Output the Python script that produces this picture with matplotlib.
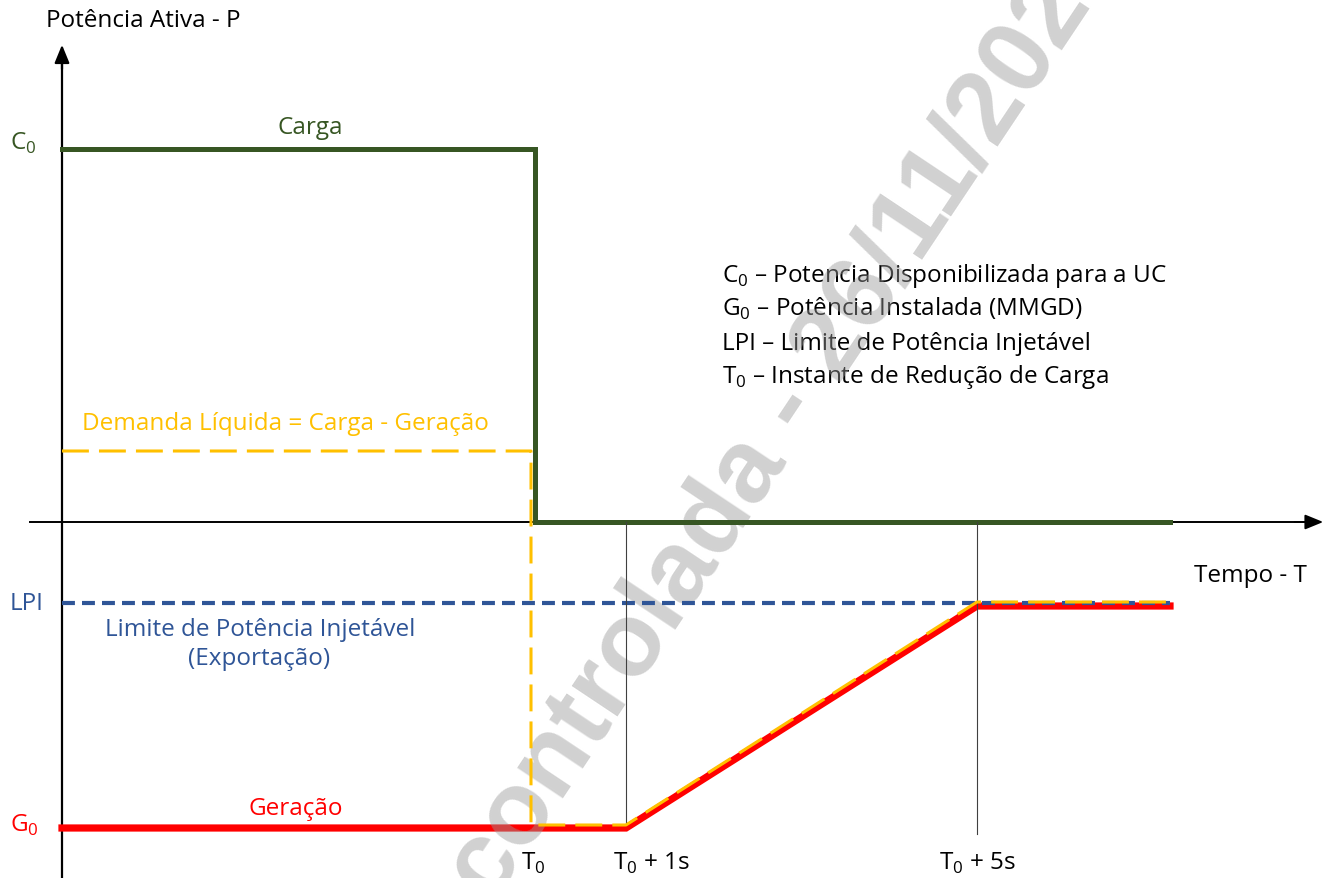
import matplotlib
matplotlib.use("Agg")
import matplotlib.pyplot as plt

# fonts
plt.rcParams['font.family'] = ['Open Sans', 'DejaVu Sans']
plt.rcParams['mathtext.fontset'] = 'custom'
plt.rcParams['mathtext.rm'] = 'Open Sans'

# colours
GREEN = '#375623'
RED = '#FF0000'
GOLD = '#FFC000'
BLUE = '#2F5597'

## data (schematic units: 1 unit = 1 grid step)
t0_carga = 4.73
t0 = 4.69
t1 = 5.64
t5 = 9.15
t_end = 11.08

C0 = 3.73
D0 = 0.71
LPI = -0.81
G0 = -3.06

carga_t = [0, t0_carga, t0_carga, t_end]
carga_p = [C0, C0, 0, 0]

geracao_t = [0, t1, t5, t_end]
geracao_p = [G0, G0, LPI - 0.03, LPI - 0.03]

demanda_t = [0, t0, t0, t1, t5, t_end]
demanda_p = [D0, D0, G0 + 0.03, G0 + 0.03, LPI + 0.01, LPI + 0.01]

lpi_t = [0, t_end]
lpi_p = [LPI, LPI]

marks_t = [t1, t5]
marks_bottom = [G0 + 0.03, G0 - 0.06]

legend_lines = [
    r'C$_\mathregular{0}$ – Potencia Disponibilizada para a UC',
    r'G$_\mathregular{0}$ – Potência Instalada (MMGD)',
    'LPI – Limite de Potência Injetável',
    r'T$_\mathregular{0}$ – Instante de Redução de Carga',
]

## figure
fig = plt.figure(figsize=(13.3, 8.79), dpi=100)
ax = fig.add_axes([0, 0, 1, 1])
ax.set_xlim(-0.62, 12.68)
ax.set_ylim(-3.56, 5.23)
ax.axis('off')

# watermark
ax.text(4.30, -3.82, 'controlada - 26/11/2024', fontsize=75, fontweight='bold',
        family='Liberation Sans', color='#9A9A9A', alpha=0.45, rotation=56.3,
        rotation_mode='anchor', ha='left', va='baseline', zorder=3.5)

# axes with arrows
ax.plot([0, 0], [-3.6, 4.6], color='black', lw=1.6, zorder=2)
ax.plot([-0.32, 12.5], [0, 0], color='black', lw=1.4, zorder=2)
ax.annotate('', xy=(0, 4.8), xytext=(0, 4.5),
            arrowprops=dict(arrowstyle='-|>,head_length=1.1,head_width=0.45',
                            color='black', lw=1.6))
ax.annotate('', xy=(12.64, 0), xytext=(12.3, 0),
            arrowprops=dict(arrowstyle='-|>,head_length=1.1,head_width=0.45',
                            color='black', lw=1.4))

# thin marker lines
for t, b in zip(marks_t, marks_bottom):
    ax.plot([t, t], [0, b], color='#404040', lw=0.8, zorder=5)

ax.plot(lpi_t, lpi_p, color=BLUE, lw=3, dashes=(3.1, 1.7), zorder=4)
ax.plot(geracao_t, geracao_p, color=RED, lw=5.2, zorder=3, solid_joinstyle='miter')
ax.plot(carga_t, carga_p, color=GREEN, lw=3.6, zorder=4, solid_joinstyle='miter')
ax.plot(demanda_t, demanda_p, color=GOLD, lw=2.2, dashes=(8.8, 3.3), zorder=6)

fs = 17.5
ax.text(-0.16, 4.96, 'Potência Ativa - P', fontsize=fs, va='baseline', ha='left')
ax.text(2.48, 3.89, 'Carga', fontsize=fs, color=GREEN, va='baseline', ha='center')
ax.text(-0.52, 3.73, r'C$_\mathregular{0}$', fontsize=fs, color=GREEN, va='baseline')
ax.text(2.23, 0.93, 'Demanda Líquida = Carga - Geração', fontsize=fs, color=GOLD,
        va='baseline', ha='center')
ax.text(-0.52, -0.87, 'LPI', fontsize=fs, color=BLUE, va='baseline')
ax.text(1.98, -1.13, 'Limite de Potência Injetável', fontsize=fs, color=BLUE,
        va='baseline', ha='center')
ax.text(1.97, -1.42, '(Exportação)', fontsize=fs, color=BLUE, va='baseline', ha='center')
ax.text(2.34, -2.92, 'Geração', fontsize=fs, color=RED, va='baseline', ha='center')
ax.text(-0.52, -3.09, r'G$_\mathregular{0}$', fontsize=fs, color=RED, va='baseline')

ax.text(4.71, -3.47, r'T$_\mathregular{0}$', fontsize=fs, va='baseline', ha='center')
ax.text(5.89, -3.47, r'T$_\mathregular{0}$ + 1s', fontsize=fs, va='baseline', ha='center')
ax.text(9.15, -3.47, r'T$_\mathregular{0}$ + 5s', fontsize=fs, va='baseline', ha='center')
ax.text(11.88, -0.59, 'Tempo - T', fontsize=fs, va='baseline', ha='center')

for i, line in enumerate(legend_lines):
    ax.text(6.60, 2.41 - i * 0.338, line, fontsize=fs, va='baseline', ha='left')

fig.savefig('out.png', dpi=100)
